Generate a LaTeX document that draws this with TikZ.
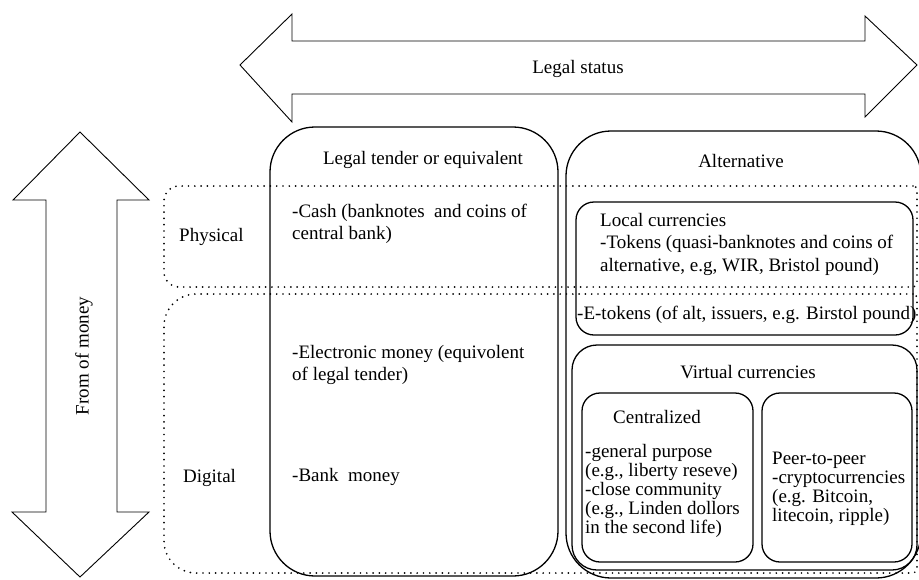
\documentclass[tikz,border=0pt]{standalone}
\usepackage{fontspec}
\setmainfont{Liberation Serif}
\usetikzlibrary{positioning}
\tikzset{
	box/.style = {line width=1.3pt, rounded corners=#1},
	zone/.style = {line width=1.9pt, line cap=round, dash pattern=on 0pt off 6.3pt},
	bigarrow/.style = {line width=0.9pt, line join=miter},
	lbl/.style = {inner sep=0pt, align=left, font=\fontsize{19}{19}\selectfont},
	lblwide/.style = {inner sep=0pt, align=left, font=\fontsize{19}{22}\selectfont},
}
\begin{document}
\begin{tikzpicture}[x=1pt, y=-1pt]
	\useasboundingbox (0,0) rectangle (919,579);
	\clip (0,0) rectangle (919,579);
	\draw[bigarrow] (240,65) -- (292,14) -- (292,41) -- (865,41) -- (865,16) -- (917,65) -- (865,117) -- (865,94) -- (292,94) -- (292,122) -- cycle;
	\node[lbl, anchor=base] (legal) at (578,73) {Legal status};
	\draw[bigarrow] (80,132) -- (149,200) -- (117,200) -- (117,512) -- (149,512) -- (80,577) -- (12,512) -- (46,512) -- (46,200) -- (13,200) -- cycle;
	\node[lbl, rotate=90] (form) at (84,356) {From of money};
	\draw[zone] (917,186) [rounded corners=15] -- (164,186) -- (164,287) [rounded corners=4] -- (917,287) -- cycle;
	\draw[zone] (917,294) [rounded corners=32] -- (164,294) -- (164,573) [rounded corners=4] -- (917,573) -- cycle;
	\node[lbl, anchor=base west] (phys) at (179,241) {Physical};
	\node[lbl, anchor=base west] (digi) at (183,482) {Digital};
	\draw[box=45] (270,127) rectangle (558,576);
	\node[lbl, anchor=base] (tender) at (423,164) {Legal tender or equivalent};
	\node[lblwide, anchor=base west] (cash) at (292,239) {-Cash (banknotes~ and coins of\\central bank)};
	\node[lblwide, anchor=base west] (emoney) at (292,380) {-Electronic money (equivolent\\of legal tender)};
	\node[lbl, anchor=base west] (bank) at (292,481) {-Bank~ money};
	\draw[box=45] (566,131) rectangle (921,578);
	\node[lbl, anchor=base] (alt) at (741,167) {Alternative};
	\draw[box=18] (576,202) rectangle (913,335);
	\node[lbl, anchor=base west, font=\fontsize{19}{22.5}\selectfont] (local) at (600,271) {Local currencies\\-Tokens (quasi-banknotes and coins of\\alternative, e.g, WIR, Bristol pound)};
	\node[lbl, anchor=base west] (etok) at (577,319) {-E-tokens (of alt, issuers, e.g. Birstol pound)};
	\draw[box=25] (572,345) rectangle (917,570);
	\node[lbl, anchor=base] (virt) at (748,378) {Virtual currencies};
	\draw[box=18] (582,393) rectangle (753,562);
	\node[lbl, anchor=base] (central) at (657,423) {Centralized};
	\node[lbl, anchor=base west, font=\fontsize{19}{18.8}\selectfont] (centlist) at (585,533) {-general purpose\\(e.g., liberty reseve)\\-close community\\(e.g., Linden dollors\\in the second life)};
	\draw[box=18] (762,393) rectangle (912,562);
	\node[lbl, anchor=base west] (p2p) at (772,521) {Peer-to-peer\\-cryptocurrencies\\(e.g. Bitcoin,\\litecoin, ripple)};
\end{tikzpicture}
\end{document}
